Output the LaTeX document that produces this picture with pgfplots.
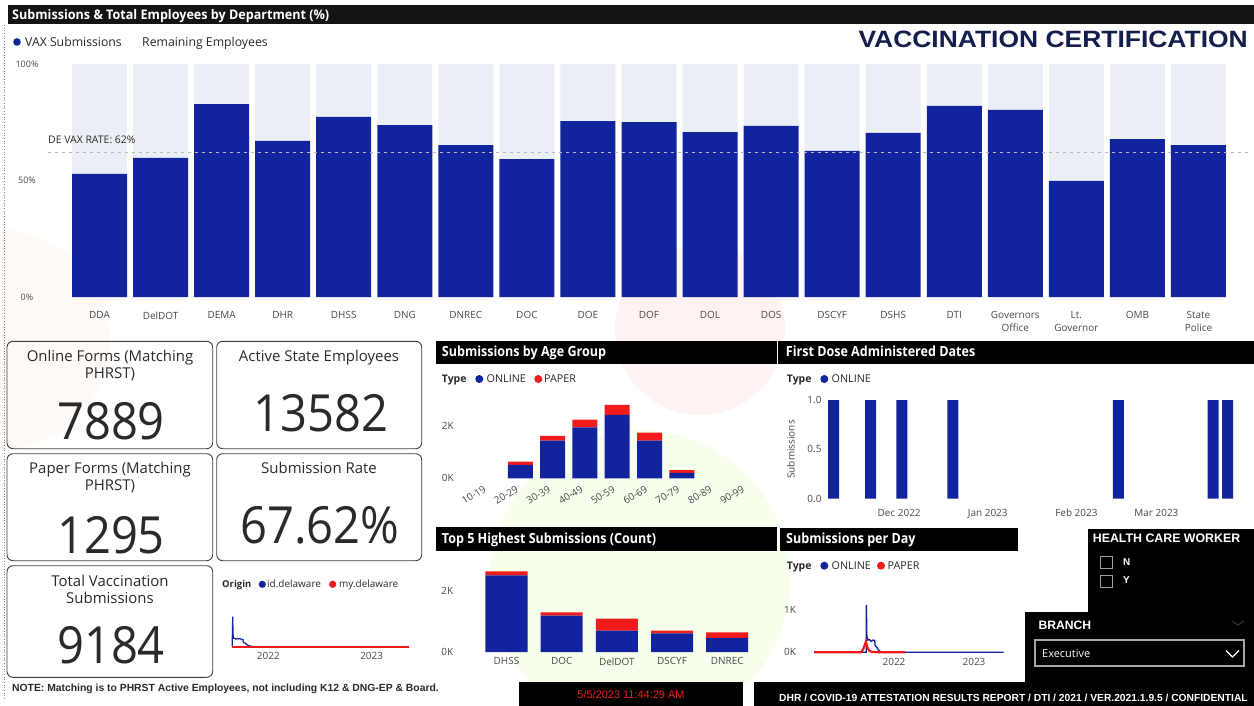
\documentclass[border=0pt]{standalone}
\usepackage{fontspec}
\setmainfont{Open Sans}
\newfontfamily\din[FakeStretch=0.92]{Open Sans}
\newfontfamily\condb[FakeStretch=0.9]{Open Sans}
\newfontfamily\condc[FakeStretch=0.95]{Open Sans}
\newfontfamily\arialf{Liberation Sans}
\newfontfamily\widearial[FakeStretch=1.12]{Liberation Sans}
\usepackage{pgfplots}
\usepackage{pgfplotstable}
\pgfplotsset{compat=1.18}

\definecolor{navy}{HTML}{12239E}
\definecolor{pred}{HTML}{F21B1B}
\definecolor{remain}{HTML}{EAEFF6}
\definecolor{titlenavy}{HTML}{141E4C}
\definecolor{cardc}{HTML}{3C4046}
\definecolor{tickc}{HTML}{4A4A4A}
\definecolor{txt}{HTML}{2A2A2A}

\pgfplotsset{
  dbase/.style={
    scale only axis, anchor=south west, clip=false,
    axis line style={draw=none}, major tick style={draw=none}, minor tick style={draw=none},
    tick label style={font=\fontsize{10}{12}\selectfont, text=tickc},
  },
}

\begin{document}
\pgfplotstableread{
x v r
0 52.8 47.2
1 59.7 40.3
2 82.8 17.2
3 67.0 33.0
4 77.3 22.7
5 73.8 26.2
6 65.2 34.8
7 59.2 40.8
8 75.5 24.5
9 75.1 24.9
10 70.8 29.2
11 73.4 26.6
12 62.7 37.3
13 70.4 29.6
14 82.0 18.0
15 80.3 19.7
16 49.8 50.2
17 67.8 32.2
18 65.2 34.8
}\deptdata
\pgfplotstableread{
x on pa
0 0 0
1 510 130
2 1438 183
3 1948 300
4 2431 379
5 1438 314
6 209 105
7 0 0
8 0 0
}\agedata
\pgfplotstableread{
x on pa
0 2527 132
1 1198 110
2 703 396
3 615 88
4 462 186
}\topdata
\pgfplotstableread{
d n
-22.9 1
-10.0 1
0.9 1
18.8 1
76.7 1
109.8 1
114.9 1
}\dosedata
\begin{tikzpicture}[x=1bp,y=-1bp]
\useasboundingbox (0,0) rectangle (1254,706);
\fill[white] (0,0) rectangle (1254,706);
% faint watermark
\begin{scope}[opacity=0.12]
  \fill[green!50!yellow!60!white] (640,580) circle (150bp);
  \fill[red!40!white] (700,330) circle (85bp);
  \fill[orange!30!white] (0,340) circle (110bp);
\end{scope}

% ---------- top panel ----------
\fill[black!92] (8,5) rectangle (1254,24);
\node[anchor=base west, inner sep=0, text=white, font=\condc\bfseries\fontsize{13.3}{14}\selectfont] at (12,19.8) {Submissions \& Total Employees by Department (\%)};
\draw[dotted, gray, line width=0.7bp] (4,25) -- (4,700);
\fill[navy] (17,42) circle (3.8bp);
\node[anchor=base west, inner sep=0, text=txt, font=\fontsize{12.3}{13}\selectfont] at (25,46.4) {VAX Submissions};
\node[anchor=base west, inner sep=0, text=txt, font=\fontsize{12.3}{13}\selectfont] at (142,46.4) {Remaining Employees};
\node[anchor=base east, inner sep=0, text=titlenavy, font=\widearial\bfseries\fontsize{23.7}{24}\selectfont] at (1248,47.2) {VACCINATION CERTIFICATION};

\begin{axis}[dbase, at={(69bp,-297bp)}, width=1160bp, height=233bp,
  xmin=-0.5, xmax=18.5, ymin=0, ymax=100,
  ybar stacked, bar width=55bp,
  xtick={0,...,18},
  xticklabels={DDA,DelDOT,DEMA,DHR,DHSS,DNG,DNREC,DOC,DOE,DOF,DOL,DOS,DSCYF,DSHS,DTI,{Governors\\Office},{Lt.\\Governor},OMB,{State\\Police}},
  xticklabel style={align=center, anchor=north, yshift=-11bp, font=\fontsize{10}{12.8}\selectfont},
  ytick={0,50,100}, yticklabels={0\%,50\%,100\%},
  yticklabel style={anchor=center, xshift=-42bp, font=\fontsize{9}{10}\selectfont},
]
\addplot[fill=navy, draw=none] table[x=x,y=v]{\deptdata};
\addplot[fill=remain, draw=none] table[x=x,y=r]{\deptdata};
\end{axis}
\begin{axis}[at={(69bp,-297bp)}, anchor=south west, scale only axis, width=1160bp, height=233bp,
  xmin=-0.5, xmax=18.5, ymin=0, ymax=100, hide axis, clip=false]
\addplot[no marks, color=gray!55, line width=1.3bp, dash pattern=on 3.5bp off 3.5bp] coordinates {(-0.845,62) (18.845,62)};
\end{axis}
\node[anchor=base west, inner sep=0, text=txt, font=\fontsize{10.5}{12}\selectfont] at (48,143.7) {DE VAX RATE: 62\%};

% ---------- KPI cards ----------
\begin{scope}[cardc, line width=0.9bp, rounded corners=6bp]
  \draw (7,341.3) rectangle (212.7,448.7);
  \draw (216.7,341.3) rectangle (421.7,448.7);
  \draw (7,453.7) rectangle (212.7,560.7);
  \draw (216.7,453.7) rectangle (421.7,560.7);
  \draw (7,565.7) rectangle (212.7,677.3);
\end{scope}
\begin{scope}[every node/.style={anchor=base, inner sep=0, text=txt}]
  \node[font=\fontsize{15}{16}\selectfont] at (110,361.7) {Online Forms (Matching};
  \node[font=\fontsize{15}{16}\selectfont] at (110,378.4) {PHRST)};
  \node[font=\din\fontsize{51.4}{52}\selectfont] at (111,439.7) {7889};
  \node[font=\fontsize{15}{16}\selectfont] at (319,361.4) {Active State Employees};
  \node[font=\din\fontsize{51.4}{52}\selectfont] at (321,431.3) {13582};
  \node[font=\fontsize{15}{16}\selectfont] at (110,473.4) {Paper Forms (Matching};
  \node[font=\fontsize{15}{16}\selectfont] at (110,490.4) {PHRST)};
  \node[font=\din\fontsize{51.4}{52}\selectfont] at (111,553) {1295};
  \node[font=\fontsize{15}{16}\selectfont] at (319,473.4) {Submission Rate};
  \node[font=\din\fontsize{51.4}{52}\selectfont] at (320,543) {67.62\%};
  \node[font=\fontsize{15}{16}\selectfont] at (110,586.1) {Total Vaccination};
  \node[font=\fontsize{15}{16}\selectfont] at (110,603.7) {Submissions};
  \node[font=\din\fontsize{51.4}{52}\selectfont] at (111,663.3) {9184};
\end{scope}
\node[anchor=base west, inner sep=0, text=txt, font=\arialf\bfseries\fontsize{10.4}{11}\selectfont] at (12,691.6) {NOTE: Matching is to PHRST Active Employees, not including K12 \& DNG-EP \& Board.};

% ---------- Origin mini chart ----------
\node[anchor=base west, inner sep=0, text=txt, font=\bfseries\fontsize{9.5}{10}\selectfont] at (222,587.8) {Origin};
\fill[navy] (262.3,584.3) circle (3.6bp);
\node[anchor=base west, inner sep=0, text=txt, font=\fontsize{10}{11}\selectfont] at (267,587.8) {id.delaware};
\fill[pred] (332.7,584.3) circle (3.6bp);
\node[anchor=base west, inner sep=0, text=txt, font=\fontsize{10}{11}\selectfont] at (339,587.8) {my.delaware};
\begin{axis}[dbase, at={(232bp,-646.7bp)}, width=177bp, height=32.1bp,
  xmin=-128.5, xmax=497, ymin=0, ymax=1200,
  ytick=\empty, xtick={0,365}, xticklabels={2022,2023},
  xticklabel style={yshift=-2bp}]
\addplot[navy, line width=1.2bp, no marks] coordinates {(-128,0) (-126,1120) (-125,600) (-124,320) (-120,320) (-115,280) (-110,310) (-105,290) (-100,300) (-95,270) (-90,280) (-88,150) (-82,140) (-76,80) (-70,40) (-60,15) (-50,5) (-30,0) (497,0)};
\addplot[pred, line width=2.2bp, no marks] coordinates {(-128,0) (497,0)};
\end{axis}

% ---------- Age group ----------
\fill[black] (436,341) rectangle (776.7,364.3);
\node[anchor=base west, inner sep=0, text=white, font=\condb\bfseries\fontsize{14}{15}\selectfont] at (441.7,356.7) {Submissions by Age Group};
\node[anchor=base west, inner sep=0, text=txt, font=\bfseries\fontsize{10.5}{11}\selectfont] at (441.7,382.9) {Type};
\fill[navy] (479.3,379) circle (4bp);
\node[anchor=base west, inner sep=0, text=txt, font=\fontsize{10.8}{11}\selectfont] at (486.5,382.9) {ONLINE};
\fill[pred] (538.3,379) circle (4bp);
\node[anchor=base west, inner sep=0, text=txt, font=\fontsize{10.8}{11}\selectfont] at (544,382.9) {PAPER};
\begin{axis}[dbase, at={(471.85bp,-478.3bp)}, width=290.7bp, height=78.4bp,
  xmin=-0.5, xmax=8.5, ymin=0, ymax=3000,
  ybar stacked, bar width=25bp,
  xtick={0,...,8}, xticklabels={10-19,20-29,30-39,40-49,50-59,60-69,70-79,80-89,90-99},
  xticklabel style={anchor=north east, inner sep=0.3bp, xshift=-5bp, yshift=-6bp, rotate=32, font=\fontsize{10}{11}\selectfont},
  ytick={0,2000}, yticklabels={0K,2K},
  yticklabel style={anchor=center, xshift=-24bp}]
\addplot[fill=navy, draw=none] table[x=x,y=on]{\agedata};
\addplot[fill=pred, draw=none] table[x=x,y=pa]{\agedata};
\end{axis}

% ---------- First dose ----------
\fill[black] (778.3,341) rectangle (1254,364.3);
\node[anchor=base west, inner sep=0, text=white, font=\condb\bfseries\fontsize{14}{15}\selectfont] at (785.7,356.7) {First Dose Administered Dates};
\node[anchor=base west, inner sep=0, text=txt, font=\bfseries\fontsize{10.5}{11}\selectfont] at (786.7,382.9) {Type};
\fill[navy] (824.3,379) circle (4bp);
\node[anchor=base west, inner sep=0, text=txt, font=\fontsize{10.8}{11}\selectfont] at (831.5,382.9) {ONLINE};
\begin{axis}[dbase, at={(826bp,-498.6bp)}, width=419bp, height=98.4bp,
  xmin=-25.6, xmax=121, ymin=0, ymax=1,
  ybar, bar width=11bp,
  xtick={0,31,62,90}, xticklabels={Dec 2022,Jan 2023,Feb 2023,Mar 2023},
  xticklabel style={yshift=-3bp},
  ytick={0,0.5,1}, yticklabels={0.0,0.5,1.0},
  yticklabel style={anchor=east, xshift=-1bp},
  ylabel={Submissions}, ylabel style={font=\fontsize{10}{11}\selectfont, text=tickc},
  ylabel shift=6bp]
\addplot[fill=navy, draw=none] table[x=d,y=n]{\dosedata};
\end{axis}

% ---------- Top 5 ----------
\fill[black] (436,526.7) rectangle (776.7,551);
\node[anchor=base west, inner sep=0, text=white, font=\condb\bfseries\fontsize{14}{15}\selectfont] at (441.7,543.3) {Top 5 Highest Submissions (Count)};
\begin{axis}[dbase, at={(478.9bp,-652bp)}, width=275.9bp, height=85bp,
  xmin=-0.5, xmax=4.5, ymin=0, ymax=2800,
  ybar stacked, bar width=42bp,
  xtick={0,...,4}, xticklabels={DHSS,DOC,DelDOT,DSCYF,DNREC},
  xticklabel style={yshift=-2bp},
  ytick={0,2000}, yticklabels={0K,2K},
  yticklabel style={anchor=center, xshift=-31.6bp}]
\addplot[fill=navy, draw=none] table[x=x,y=on]{\topdata};
\addplot[fill=pred, draw=none] table[x=x,y=pa]{\topdata};
\end{axis}

% ---------- Submissions per day ----------
\fill[black] (780,527.7) rectangle (1017.7,551);
\node[anchor=base west, inner sep=0, text=white, font=\condb\bfseries\fontsize{14}{15}\selectfont] at (786,543.3) {Submissions per Day};
\node[anchor=base west, inner sep=0, text=txt, font=\bfseries\fontsize{10.5}{11}\selectfont] at (786.7,569.6) {Type};
\fill[navy] (824.3,565.7) circle (4bp);
\node[anchor=base west, inner sep=0, text=txt, font=\fontsize{10.8}{11}\selectfont] at (831.5,569.6) {ONLINE};
\fill[pred] (881,565.7) circle (4bp);
\node[anchor=base west, inner sep=0, text=txt, font=\fontsize{10.8}{11}\selectfont] at (887.5,569.6) {PAPER};
\begin{axis}[dbase, at={(814bp,-652.3bp)}, width=189.6bp, height=50.8bp,
  xmin=-365, xmax=500, ymin=0, ymax=1200,
  xtick={0,365}, xticklabels={2022,2023}, xticklabel style={yshift=-2bp},
  ytick={0,1000}, yticklabels={0K,1K},
  yticklabel style={anchor=center, xshift=-24bp}]
\addplot[navy, line width=1.3bp, no marks] coordinates {(-365,0) (-127,0) (-126,1118) (-124,400) (-120,290) (-112,300) (-104,260) (-96,290) (-88,280) (-86,150) (-80,130) (-72,60) (-64,25) (-56,8) (-40,2) (0,0) (500,0)};
\addplot[pred, line width=2.2bp, no marks] coordinates {(-365,0) (-150,0) (-140,80) (-132,200) (-128,250) (-122,120) (-112,30) (-100,10) (-80,3) (-60,0) (50,0)};
\end{axis}

% ---------- Slicers ----------
\fill[black] (1088,529) rectangle (1254,612);
\fill[black] (1025,612) rectangle (1254,681.7);
\node[anchor=base west, inner sep=0, text=white, font=\arialf\bfseries\fontsize{12.4}{13}\selectfont] at (1092.7,542.7) {HEALTH CARE WORKER};
\draw[gray!75, line width=1bp] (1100,556) rectangle (1112,568);
\draw[gray!75, line width=1bp] (1100,575) rectangle (1112,587);
\node[anchor=base west, inner sep=0, text=white, font=\arialf\bfseries\fontsize{10}{11}\selectfont] at (1123,565.6) {N};
\node[anchor=base west, inner sep=0, text=white, font=\arialf\bfseries\fontsize{10}{11}\selectfont] at (1123,583.6) {Y};
\node[anchor=base west, inner sep=0, text=white, font=\arialf\bfseries\fontsize{12.2}{13}\selectfont] at (1038.3,629.4) {BRANCH};
\draw[gray!40!black, line width=1bp] (1232,621) -- (1238,625) -- (1244,621);
\draw[gray!70, line width=1.3bp] (1035,640) rectangle (1244,666);
\node[anchor=base west, inner sep=0, text=white, font=\fontsize{11}{12}\selectfont] at (1042,657.9) {Executive};
\draw[white, line width=1.2bp] (1226,650.5) -- (1232.5,657) -- (1239,650.5);

% ---------- footer ----------
\fill[black] (519.3,682.3) rectangle (742.7,706);
\node[anchor=base, inner sep=0, text=pred, font=\arialf\fontsize{11}{12}\selectfont] at (631,698.2) {5/5/2023 11:44:29 AM};
\fill[black] (754,682.3) rectangle (1254,706);
\node[anchor=base west, inner sep=0, text=white, font=\arialf\bfseries\fontsize{10.3}{11}\selectfont] at (779,701.3) {DHR / COVID-19 ATTESTATION RESULTS REPORT / DTI / 2021 / VER.2021.1.9.5 / CONFIDENTIAL};
\end{tikzpicture}
\end{document}
